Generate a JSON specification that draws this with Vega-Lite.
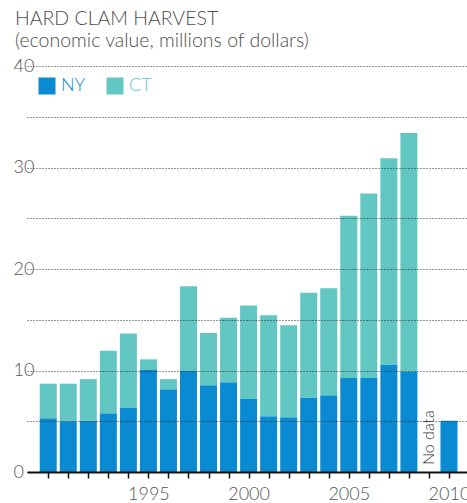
{
  "$schema": "https://vega.github.io/schema/vega-lite/v6.json",
  "width": 440,
  "height": 406,
  "autosize": {"type": "none"},
  "padding": {"left": 27, "top": 66, "right": 0, "bottom": 31},
  "background": "white",
  "title": {
    "text": "HARD CLAM HARVEST",
    "subtitle": "(economic value, millions of dollars)",
    "anchor": "start",
    "frame": "group",
    "dx": -12,
    "offset": 6,
    "font": "Lato",
    "fontSize": 19.5,
    "fontWeight": 300,
    "color": "#4d4d4d",
    "subtitleFont": "Lato",
    "subtitleFontSize": 19.5,
    "subtitleFontWeight": 300,
    "subtitleColor": "#4d4d4d",
    "subtitlePadding": 2
  },
  "datasets": {
    "harvest": [
      {"year": 1990, "state": "NY", "value": 5.3}, {"year": 1990, "state": "CT", "value": 3.4},
      {"year": 1991, "state": "NY", "value": 5.0}, {"year": 1991, "state": "CT", "value": 3.7},
      {"year": 1992, "state": "NY", "value": 5.05}, {"year": 1992, "state": "CT", "value": 4.1},
      {"year": 1993, "state": "NY", "value": 5.8}, {"year": 1993, "state": "CT", "value": 6.15},
      {"year": 1994, "state": "NY", "value": 6.3}, {"year": 1994, "state": "CT", "value": 7.35},
      {"year": 1995, "state": "NY", "value": 10.05}, {"year": 1995, "state": "CT", "value": 1.05},
      {"year": 1996, "state": "NY", "value": 8.15}, {"year": 1996, "state": "CT", "value": 1.0},
      {"year": 1997, "state": "NY", "value": 9.95}, {"year": 1997, "state": "CT", "value": 8.35},
      {"year": 1998, "state": "NY", "value": 8.55}, {"year": 1998, "state": "CT", "value": 5.15},
      {"year": 1999, "state": "NY", "value": 8.85}, {"year": 1999, "state": "CT", "value": 6.35},
      {"year": 2000, "state": "NY", "value": 7.2}, {"year": 2000, "state": "CT", "value": 9.2},
      {"year": 2001, "state": "NY", "value": 5.5}, {"year": 2001, "state": "CT", "value": 9.95},
      {"year": 2002, "state": "NY", "value": 5.4}, {"year": 2002, "state": "CT", "value": 9.05},
      {"year": 2003, "state": "NY", "value": 7.35}, {"year": 2003, "state": "CT", "value": 10.3},
      {"year": 2004, "state": "NY", "value": 7.55}, {"year": 2004, "state": "CT", "value": 10.55},
      {"year": 2005, "state": "NY", "value": 9.25}, {"year": 2005, "state": "CT", "value": 16.0},
      {"year": 2006, "state": "NY", "value": 9.25}, {"year": 2006, "state": "CT", "value": 18.2},
      {"year": 2007, "state": "NY", "value": 10.6}, {"year": 2007, "state": "CT", "value": 20.3},
      {"year": 2008, "state": "NY", "value": 9.85}, {"year": 2008, "state": "CT", "value": 23.55},
      {"year": 2010, "state": "NY", "value": 5.05}
    ],
    "notes": [
      {"year": 2009, "label": "No data"}
    ]
  },
  "encoding": {
    "x": {
      "field": "year",
      "type": "quantitative",
      "scale": {"domain": [1989.19, 2010.65], "nice": false, "zero": false},
      "axis": {
        "title": null,
        "values": [1990,1991,1992,1993,1994,1995,1996,1997,1998,1999,2000,2001,2002,2003,2004,2005,2006,2007,2008,2009,2010],
        "labelExpr": "(datum.value % 5 == 0 && datum.value >= 1995) ? '' + datum.value : ''",
        "labelFlush": false,
        "labelOverlap": false,
        "labelBound": false,
        "grid": false,
        "domainColor": "#111111",
        "domainWidth": 2,
        "tickColor": "#111111",
        "tickWidth": 1.5,
        "tickSize": 6,
        "labelFont": "Lato",
        "labelFontSize": 18,
        "labelFontWeight": 300,
        "labelColor": "#555555",
        "labelPadding": 7,
        "zindex": 2
      }
    }
  },
  "layer": [
    {
      "data": {"name": "harvest"},
      "mark": {"type": "bar", "width": 17},
      "encoding": {
        "y": {
          "field": "value",
          "type": "quantitative",
          "stack": "zero",
          "scale": {"domain": [0, 40], "nice": false},
          "axis": {
            "title": null,
            "values": [0, 5, 10, 15, 20, 25, 30, 35, 40],
            "labelExpr": "datum.value % 10 == 0 ? datum.label : ''",
            "labelOverlap": false,
            "domain": false,
            "ticks": false,
            "tickSize": 0,
            "grid": true,
            "gridColor": "#1a1a1a",
            "gridDash": [1, 2],
            "gridWidth": 1.2,
            "gridOpacity": 0.9,
            "labelFont": "Lato",
            "labelFontSize": 18,
            "labelFontWeight": 300,
            "labelColor": "#555555",
            "labelAlign": "left",
            "labelPadding": 14,
            "labelBaseline": "middle",
            "zindex": 1
          }
        },
        "color": {
          "field": "state",
          "type": "nominal",
          "scale": {"domain": ["NY", "CT"], "range": ["#0a8bd1", "#62c7c2"]},
          "legend": {
            "title": null,
            "orient": "top-left",
            "offset": 11,
            "direction": "horizontal",
            "padding": 0,
            "symbolType": "square",
            "symbolSize": 289,
            "symbolStrokeWidth": 0,
            "labelFont": "Lato",
            "labelFontSize": 18,
            "labelFontWeight": 300,
            "labelOffset": 5,
            "columnPadding": 20,
            "encode": {
              "labels": {"update": {"fill": {"scale": "color", "field": "value"}}}
            }
          }
        },
        "order": {"field": "state", "sort": "descending"}
      }
    },
    {
      "data": {"name": "notes"},
      "mark": {
        "type": "text",
        "angle": 270,
        "align": "left",
        "baseline": "middle",
        "dx": 7,
        "font": "Lato",
        "fontSize": 16,
        "fontWeight": 300,
        "color": "#333333"
      },
      "encoding": {
        "y": {"datum": 0, "type": "quantitative"},
        "text": {"field": "label"}
      }
    }
  ],
  "config": {
    "view": {"stroke": null},
    "axis": {"labelOverlap": false}
  }
}
